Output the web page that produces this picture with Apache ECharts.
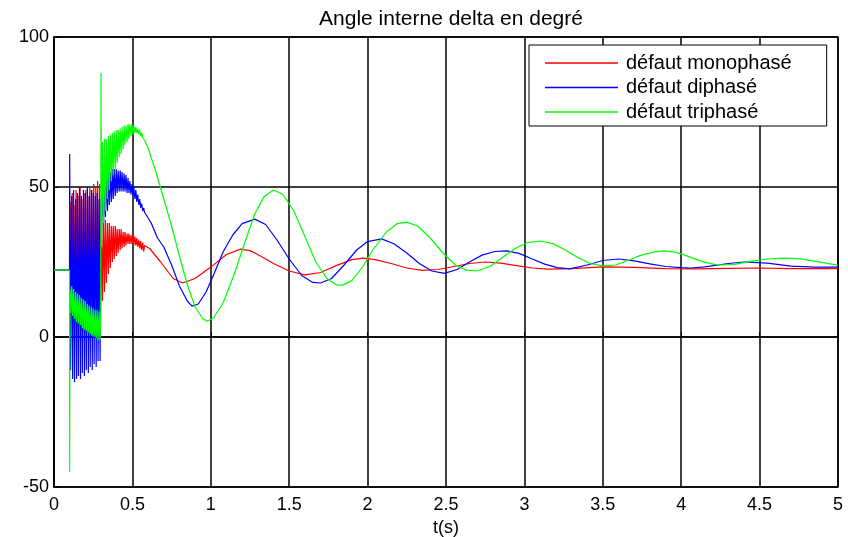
<!DOCTYPE html>
<html>
<head>
<meta charset="utf-8">
<script src="https://cdn.jsdelivr.net/npm/echarts@6/dist/echarts.min.js"></script>
<style>html,body{margin:0;padding:0;background:#fff}#c{width:848px;height:537px}</style>
</head>
<body>
<div id="c"></div>
<script>
// ---- data ----
const seriesNames = ['défaut monophasé', 'défaut diphasé', 'défaut triphasé'];
const xTicks = [0, 0.5, 1, 1.5, 2, 2.5, 3, 3.5, 4, 4.5, 5];
const yTicks = [-50, 0, 50, 100];

const monoData = [
  [0, 22.3], [0.099, 22.3],
  [0.100, 22], [0.103, 45], [0.109, 16], [0.116, 48], [0.122, 13], [0.128, 44], [0.134, 15],
  [0.141, 49], [0.147, 12], [0.153, 47], [0.159, 14], [0.166, 50], [0.172, 13], [0.178, 46],
  [0.184, 15], [0.191, 48], [0.197, 12], [0.203, 49], [0.209, 14], [0.216, 47], [0.222, 11],
  [0.228, 50], [0.234, 13], [0.241, 49], [0.247, 10], [0.253, 51], [0.259, 12], [0.266, 50],
  [0.272, 9], [0.278, 52], [0.284, 10], [0.291, 51], [0.297, 8],
  [0.303, 38], [0.309, 12], [0.316, 39], [0.322, 15], [0.328, 39], [0.334, 18], [0.341, 38],
  [0.347, 21], [0.353, 38], [0.359, 23], [0.366, 37], [0.372, 25], [0.378, 37], [0.384, 26],
  [0.391, 37], [0.397, 27], [0.403, 36], [0.409, 28], [0.416, 36], [0.422, 29], [0.428, 36],
  [0.434, 29.5], [0.441, 35], [0.447, 30], [0.453, 35], [0.459, 30.5], [0.466, 34.5], [0.472, 31],
  [0.478, 34.5], [0.484, 31], [0.491, 34], [0.497, 31], [0.503, 34], [0.509, 30.5], [0.516, 33.5],
  [0.522, 30.5], [0.528, 33], [0.534, 30], [0.541, 32.5], [0.547, 29.5], [0.553, 32], [0.559, 29],
  [0.566, 31.5], [0.572, 28.5], [0.578, 30.5],
  [0.61, 29.5], [0.68, 25], [0.76, 19.5], [0.82, 18], [0.9, 19.5], [1.0, 23.3], [1.1, 27.5],
  [1.19, 29.3], [1.25, 28.8], [1.3, 27.5], [1.4, 24.5], [1.5, 22], [1.6, 20.7], [1.7, 21.5],
  [1.8, 23.8], [1.9, 25.8], [1.97, 26.3], [2.05, 25.8], [2.15, 24.5], [2.25, 23], [2.35, 22.2],
  [2.45, 22.5], [2.55, 23.5], [2.65, 24.5], [2.75, 25], [2.85, 24.6], [2.95, 23.8], [3.05, 23],
  [3.15, 22.6], [3.3, 22.8], [3.5, 23.4], [3.7, 23.2], [3.9, 22.8], [4.1, 22.7], [4.3, 22.9],
  [4.5, 23], [4.7, 22.8], [5.0, 22.8]
];

const diData = [
  [0, 22.3], [0.099, 22.3],
  [0.100, 61], [0.106, -11], [0.113, 47], [0.119, -14], [0.125, 49], [0.131, -15], [0.138, 46],
  [0.144, -14], [0.150, 48], [0.156, -13], [0.163, 50], [0.169, -14], [0.175, 47], [0.181, -12],
  [0.188, 49], [0.194, -13], [0.200, 48], [0.206, -11], [0.213, 50], [0.219, -12], [0.225, 47],
  [0.231, -10], [0.238, 49], [0.244, -11], [0.250, 48], [0.256, -9], [0.263, 47], [0.269, -10],
  [0.275, 48], [0.281, -8], [0.288, 46], [0.294, -8], [0.300, 46],
  [0.303, 35], [0.309, 50], [0.316, 38], [0.322, 52], [0.328, 40], [0.334, 53], [0.341, 42],
  [0.347, 54], [0.353, 44], [0.359, 55], [0.366, 45], [0.372, 56], [0.378, 46], [0.384, 56],
  [0.391, 47], [0.397, 56], [0.403, 48], [0.409, 55.5], [0.416, 48.5], [0.422, 55.5], [0.428, 48.5],
  [0.434, 55], [0.441, 48.5], [0.447, 54.5], [0.453, 48.5], [0.459, 54], [0.466, 48], [0.472, 53],
  [0.478, 48], [0.484, 52], [0.491, 47.5], [0.497, 51], [0.503, 47], [0.509, 50], [0.516, 46],
  [0.522, 49], [0.528, 45], [0.534, 47.5], [0.541, 44], [0.547, 46], [0.553, 43], [0.559, 44.5],
  [0.566, 42], [0.572, 43], [0.578, 41.5],
  [0.62, 38], [0.66, 33], [0.7, 30], [0.75, 24], [0.8, 17], [0.85, 12], [0.88, 10.3],
  [0.92, 11], [0.97, 15], [1.02, 21], [1.08, 28.5], [1.14, 34], [1.2, 37.8], [1.28, 39.3],
  [1.35, 37.5], [1.42, 32.5], [1.5, 26], [1.58, 20.5], [1.65, 18.2], [1.7, 18], [1.77, 19.5],
  [1.85, 24], [1.93, 29], [2.0, 31.8], [2.09, 32.7], [2.17, 31], [2.25, 28], [2.33, 24.5],
  [2.41, 22], [2.49, 21.2], [2.57, 22.5], [2.65, 25], [2.73, 27.3], [2.81, 28.5], [2.89, 28.7],
  [2.97, 27.8], [3.05, 26], [3.13, 24.3], [3.21, 23.1], [3.29, 22.7], [3.4, 24], [3.5, 25.5],
  [3.6, 26], [3.7, 25.4], [3.8, 24.4], [3.9, 23.5], [4.0, 23.1], [4.06, 23], [4.15, 23.4],
  [4.3, 24.5], [4.4, 25], [4.55, 24.6], [4.7, 23.6], [4.85, 23.3], [5.0, 23.3]
];

const triData = [
  [0, 22.3], [0.099, 22.3],
  [0.100, -45], [0.102, 16], [0.106, 8], [0.113, 17], [0.119, 7], [0.125, 16], [0.131, 6],
  [0.138, 15], [0.144, 5], [0.150, 14.5], [0.156, 4.5], [0.163, 14], [0.169, 4], [0.175, 13],
  [0.181, 3], [0.188, 12.5], [0.194, 2.5], [0.200, 12], [0.206, 2], [0.213, 11], [0.219, 1.5],
  [0.225, 10.5], [0.231, 1], [0.238, 10], [0.244, 0.5], [0.250, 9.5], [0.256, 0], [0.263, 9],
  [0.269, -0.5], [0.275, 9], [0.281, -1], [0.288, 8.5], [0.294, -1], [0.298, 8], [0.300, 88],
  [0.303, 30], [0.309, 65], [0.316, 38], [0.322, 66], [0.328, 42], [0.334, 66], [0.341, 46],
  [0.347, 67], [0.353, 49], [0.359, 67.5], [0.366, 52], [0.372, 68], [0.378, 54], [0.384, 68.5],
  [0.391, 56], [0.397, 69], [0.403, 58], [0.409, 69], [0.416, 60], [0.422, 69.5], [0.428, 61],
  [0.434, 70], [0.441, 62.5], [0.447, 70.5], [0.453, 64], [0.459, 70.5], [0.466, 65], [0.472, 71],
  [0.478, 66], [0.484, 71], [0.491, 67], [0.497, 71], [0.503, 67.5], [0.509, 70.5], [0.516, 68],
  [0.522, 70], [0.528, 68], [0.534, 69.5], [0.541, 67.5], [0.547, 69], [0.553, 67], [0.559, 68],
  [0.566, 66.5], [0.572, 67], [0.578, 65.5],
  [0.6, 63], [0.65, 55], [0.7, 46], [0.75, 37], [0.8, 27], [0.85, 17.5], [0.9, 10],
  [0.95, 6], [0.98, 5.3], [1.02, 6.5], [1.08, 11.5], [1.15, 21], [1.22, 32], [1.28, 41],
  [1.34, 46.8], [1.4, 49], [1.46, 47.5], [1.53, 42], [1.6, 33.5], [1.67, 25], [1.74, 19.5],
  [1.8, 17.4], [1.84, 17.3], [1.9, 18.8], [1.97, 23.5], [2.04, 29.5], [2.12, 35], [2.19, 37.8],
  [2.25, 38.3], [2.32, 37], [2.4, 33], [2.48, 28], [2.56, 24], [2.63, 22.3], [2.7, 22],
  [2.78, 23.5], [2.86, 26.5], [2.94, 29.5], [3.02, 31.5], [3.1, 32], [3.18, 31.2], [3.26, 29],
  [3.34, 26.5], [3.42, 24.5], [3.5, 23.7], [3.58, 24], [3.66, 25.5], [3.74, 27.2], [3.82, 28.3],
  [3.89, 28.7], [3.97, 28.2], [4.05, 26.8], [4.13, 25.2], [4.21, 24.2], [4.27, 24], [4.35, 24.3],
  [4.45, 25.3], [4.55, 26], [4.65, 26.3], [4.75, 26.1], [4.85, 25.3], [4.95, 24.4], [5.0, 24]
];

const colors = ['#ff0000', '#0000ff', '#00ff00'];
const dataSets = [monoData, diData, triData];

// ---- chart ----
const chart = echarts.init(document.getElementById('c'), null, {renderer: 'canvas'});
const FONT = 'Liberation Sans, Arial, sans-serif';
const option = {
  animation: false,
  backgroundColor: '#fff',
  title: {
    text: 'Angle interne delta en degré',
    left: 446, top: 4, textAlign: 'center',
    textStyle: {fontFamily: FONT, fontSize: 21, fontWeight: 'normal', color: '#000'}
  },
  grid: {left: 54, right: 10, top: 37, bottom: 50, containLabel: false, outerBoundsMode: 'none',
    show: true, borderColor: '#000', borderWidth: 1.5, backgroundColor: '#fff'},
  legend: {
    data: seriesNames,
    orient: 'vertical',
    left: 529, top: 45,
    padding: [8, 35, 4, 16],
    itemWidth: 73, itemHeight: 1.5, itemGap: 4.5,
    icon: 'rect',
    backgroundColor: '#fff', borderColor: '#000', borderWidth: 1,
    textStyle: {fontFamily: FONT, fontSize: 20, color: '#000', lineHeight: 20, padding: [0, 0, 0, 3]}
  },
  xAxis: {
    type: 'value', min: xTicks[0], max: xTicks[xTicks.length - 1], interval: 0.5,
    name: 't(s)', nameLocation: 'middle', nameGap: 22,
    nameTextStyle: {fontFamily: FONT, fontSize: 18, color: '#000'},
    axisLine: {show: true, lineStyle: {color: '#000', width: 1.5}},
    axisTick: {show: true, inside: true, length: 5, lineStyle: {color: '#000'}},
    axisLabel: {fontFamily: FONT, fontSize: 18, color: '#000', margin: 9},
    splitLine: {show: true, lineStyle: {color: '#000', width: 1.5}}
  },
  yAxis: {
    type: 'value', min: yTicks[0], max: yTicks[yTicks.length - 1], interval: 50,
    axisLine: {show: true, lineStyle: {color: '#000', width: 1.5}},
    axisTick: {show: true, inside: true, length: 5, lineStyle: {color: '#000'}},
    axisLabel: {fontFamily: FONT, fontSize: 18, color: '#000', margin: 5},
    splitLine: {show: true, lineStyle: {color: '#000', width: 1.5}}
  },
  series: seriesNames.map((n, i) => ({
    name: n, type: 'line', data: dataSets[i], showSymbol: false, symbol: 'none',
    color: colors[i], lineStyle: {color: colors[i], width: 1.2}, z: 2 + i
  }))
};
chart.setOption(option);
</script>
</body>
</html>
